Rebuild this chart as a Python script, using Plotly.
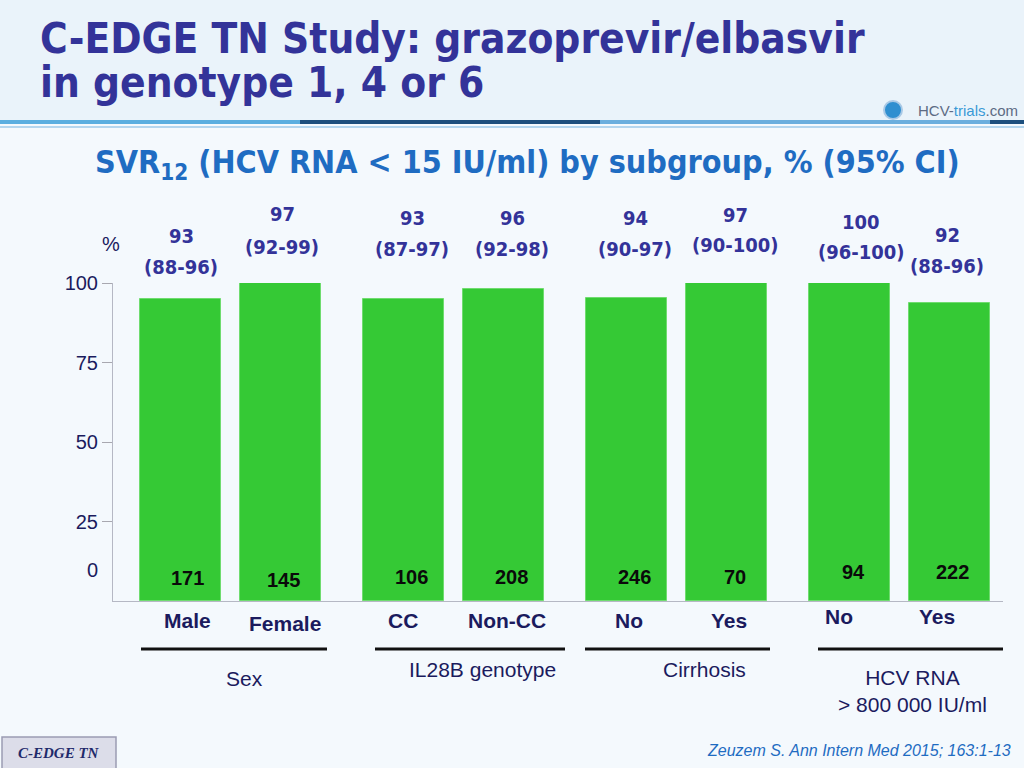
import plotly.graph_objects as go

# ---------------- data ----------------
categories = ["Male", "Female", "CC", "Non-CC", "No", "Yes", "No", "Yes"]
group_names = ["Sex", "IL28B genotype", "Cirrhosis", "HCV RNA<br>> 800 000 IU/ml"]
group_index = [0, 0, 1, 1, 2, 2, 3, 3]
bar_heights = [95.0, 100.4, 95.0, 98.0, 95.4, 100.4, 100.8, 93.8]
svr_labels = ["93", "97", "93", "96", "94", "97", "100", "92"]
ci_labels = ["(88-96)", "(92-99)", "(87-97)", "(92-98)", "(90-97)", "(90-100)", "(96-100)", "(88-96)"]
n_labels = ["171", "145", "106", "208", "246", "70", "94", "222"]
y_tick_values = [25, 50, 75, 100]

# ---------------- layout constants (pixels) ----------------
W, H = 1024, 768
L, R, T, B = 113, 21, 283, 167
PW = W - L - R          # plot width
PH = H - T - B          # plot height
Y0 = H - B              # pixel row of y = 0

NAVY = "#1b1b5e"
INDIGO = "#333399"
BLUE = "#1f6cc2"
GREEN = "#35c935"
COND = "DejaVu Sans Condensed, DejaVu Sans, sans-serif"
ARIAL = "Liberation Sans, Arial, sans-serif"

# bar centres along x (plot units = pixels from the left of the plot area)
FIRST, GROUP_STEP, INNER_STEP = 67, 223, 100
within = [0, 1, 0, 1, 0, 1, 0, 1]
x_pos = [FIRST + g * GROUP_STEP + w * INNER_STEP for g, w in zip(group_index, within)]
BAR_W = 81

# label placement tweaks (pixels)
svr_dx = [1, 2, 9, 9, 9, 9, 12, -2]
svr_py = [236, 214, 218, 218, 218, 215, 222, 235]
ci_py = [267, 247, 249, 249, 249, 245, 252, 266]
n_dx = [7, 3, 8, 8, 8, 9, 4, 3]
n_py = [578, 580, 577, 577, 577, 577, 572, 572]
cat_dx = [7, 5, 0, 4, 3, 3, -10, -12]
cat_py = [620, 623, 620, 620, 620, 620, 616, 616]
group_line_px = [(141, 327), (375, 565), (585, 770), (818, 1003)]
group_label_pos = [(244, 678), (482, 669), (704, 669), (912, 691)]
LINE_PY = 649


def px_to_paper(px, py):
    return (px - L) / PW, (Y0 - py) / PH


def ann(text, px, py, size, color, family=ARIAL, bold=False, italic=False,
        xanchor="center", yanchor="middle"):
    x, y = px_to_paper(px, py)
    return dict(text=text, x=x, y=y, xref="paper", yref="paper", showarrow=False,
                xanchor=xanchor, yanchor=yanchor,
                font=dict(size=size, color=color, family=family,
                          weight="bold" if bold else "normal",
                          style="italic" if italic else "normal"))


def rect(px0, py0, px1, py1, color, line=None):
    x0, y0 = px_to_paper(px0, py0)
    x1, y1 = px_to_paper(px1, py1)
    return dict(type="rect", xref="paper", yref="paper", x0=x0, y0=y0, x1=x1, y1=y1,
                fillcolor=color, line=dict(width=0) if line is None else line, layer="below")


fig = go.Figure()
fig.add_trace(go.Bar(
    x=x_pos, y=bar_heights, width=BAR_W,
    marker=dict(color=GREEN, line=dict(color="#6fdc6f", width=1)),
    hoverinfo="skip", cliponaxis=False,
))

annotations = []
shapes = []

# header tint
shapes.append(rect(0, 0, 1024, 120, "rgba(226,238,248,0.55)"))

# titles
annotations.append(ann("C-EDGE TN Study: grazoprevir/elbasvir", 38, 39, 42, INDIGO, COND,
                       bold=True, xanchor="left"))
annotations.append(ann("in genotype 1, 4 or 6", 38, 82, 42, INDIGO, COND,
                       bold=True, xanchor="left"))
annotations.append(ann("SVR<sub>12</sub> (HCV RNA < 15 IU/ml) by subgroup, % (95% CI)",
                       527, 164, 32, BLUE, COND, bold=True))

# header rule
shapes.append(rect(0, 120, 300, 124, "#5aaee0"))
shapes.append(rect(300, 120, 600, 124, "#1d4f7e"))
shapes.append(rect(600, 120, 990, 124, "#6aaede"))
shapes.append(rect(990, 120, 1024, 124, "#1d4f7e"))
shapes.append(rect(0, 126, 1024, 128, "#b3d6ef"))

# logo
cx, cy = px_to_paper(893, 110)
rx, ry = 9 / PW, 9 / PH
shapes.append(dict(type="circle", xref="paper", yref="paper", x0=cx - rx, x1=cx + rx,
                   y0=cy - ry, y1=cy + ry, fillcolor="#2f8fd0", line=dict(color="#a9c9e6", width=2)))
annotations.append(ann("<span style='color:#5d6b84'>HCV-</span><span style='color:#3a9ad6'>trials</span>"
                       "<span style='color:#5d6b84'>.com</span>", 1020, 110, 15, "#5d6b84", ARIAL,
                       xanchor="right"))

# y axis extras
annotations.append(ann("%", 111, 244, 20, NAVY, ARIAL))
annotations.append(ann("0", 92, 570, 20, NAVY, ARIAL))

# per-bar labels
for i in range(len(categories)):
    cxp = L + x_pos[i]
    annotations.append(ann(svr_labels[i], cxp + svr_dx[i], svr_py[i], 20, INDIGO, COND, bold=True))
    annotations.append(ann(ci_labels[i], cxp + svr_dx[i], ci_py[i], 20, INDIGO, COND, bold=True))
    annotations.append(ann(n_labels[i], cxp + n_dx[i], n_py[i], 20, "#0a0a0a", ARIAL, bold=True))
    annotations.append(ann(categories[i], cxp + cat_dx[i], cat_py[i], 21, NAVY, ARIAL, bold=True))

# group rules and labels
for (a, b), name, (gx, gy) in zip(group_line_px, group_names, group_label_pos):
    x0, y0 = px_to_paper(a, LINE_PY)
    x1, _ = px_to_paper(b, LINE_PY)
    shapes.append(dict(type="line", xref="paper", yref="paper", x0=x0, x1=x1, y0=y0, y1=y0,
                       line=dict(color="#111111", width=3)))
    annotations.append(ann(name, gx, gy, 21, NAVY, ARIAL))

# footer
fx0, fy0 = px_to_paper(2, 737)
fx1, fy1 = px_to_paper(116, 770)
shapes.append(dict(type="rect", xref="paper", yref="paper", x0=fx0, x1=fx1, y0=fy1, y1=fy0,
                   fillcolor="#dcdde9", line=dict(color="#9b9cb3", width=1.5)))
annotations.append(ann("C-EDGE TN", 59, 753, 15, "#1f2a6b", "Liberation Serif, serif",
                       bold=True, italic=True))
annotations.append(ann("Zeuzem S. Ann Intern Med 2015; 163:1-13", 1013, 750, 16, BLUE, ARIAL,
                       italic=True, xanchor="right"))

fig.update_layout(
    width=W, height=H,
    margin=dict(l=L, r=R, t=T, b=B, pad=0),
    paper_bgcolor="#f4f9fd",
    plot_bgcolor="rgba(0,0,0,0)",
    showlegend=False,
    bargap=0,
    xaxis=dict(range=[0, PW], showgrid=False, zeroline=False, showticklabels=False,
               ticks="", showline=True, linecolor="#b5b8c4", linewidth=1, fixedrange=True),
    yaxis=dict(range=[0, 100], tickvals=y_tick_values, ticktext=[str(v) for v in y_tick_values],
               ticks="outside", ticklen=10, tickcolor="#a8a8b0", showgrid=False, zeroline=False,
               showline=True, linecolor="#b5b8c4", linewidth=1,
               tickfont=dict(family=ARIAL, size=20, color=NAVY), fixedrange=True),
    annotations=annotations,
    shapes=shapes,
)

fig.write_html(
    "out.html",
    config={"displayModeBar": False},
    post_script="document.body.style.margin='0';document.body.style.overflow='hidden';",
)
